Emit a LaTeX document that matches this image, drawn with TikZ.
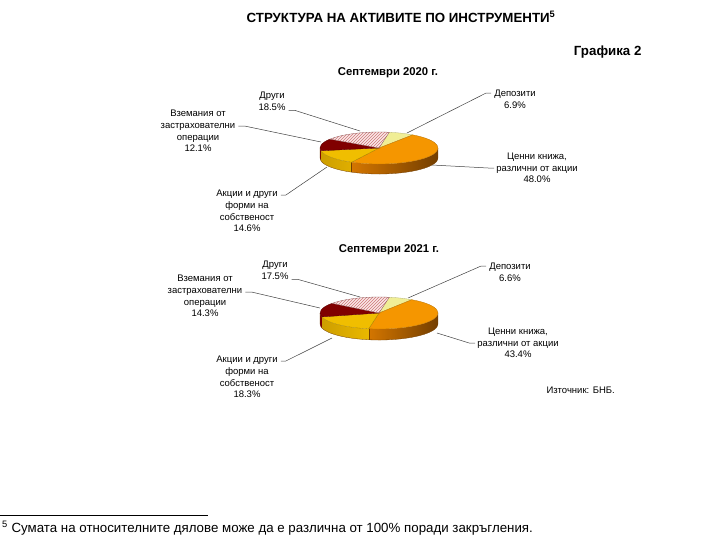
\documentclass[tikz,border=0pt]{standalone}
\usepackage{fontspec}
\setmainfont{Liberation Sans}
\usetikzlibrary{patterns}
\definecolor{depoY}{RGB}{240,238,150}
\definecolor{cenO}{RGB}{245,150,0}
\definecolor{cenOdark}{RGB}{115,62,0}
\definecolor{cenOside}{RGB}{212,118,0}
\definecolor{akcY}{RGB}{240,190,0}
\definecolor{akcYside}{RGB}{205,158,0}
\definecolor{vzR}{RGB}{128,0,0}
\definecolor{othR}{RGB}{205,120,120}
\definecolor{othBg}{RGB}{250,232,232}
\tikzset{
  lbl/.style={align=center, inner sep=0pt, font=\fontsize{9.5}{11.6}\selectfont},
  lead/.style={draw=black!75, line width=0.5pt},
  pietitle/.style={font=\bfseries\fontsize{11.3}{13}\selectfont},
  depo/.style={fill=depoY, draw=depoY!75!black, line width=0.3pt},
  cenni/.style={fill=cenO, draw=cenO!75!black, line width=0.3pt},
  akcii/.style={fill=akcY, draw=akcY!70!black, line width=0.3pt},
  vzem/.style={fill=vzR, draw=vzR!70!black, line width=0.3pt},
  drugi/.style={preaction={fill=othBg}, pattern=north east lines, pattern color=othR, draw=othR!70!black, line width=0.3pt}
}
\begin{document}
\begin{tikzpicture}[x=1pt,y=-1pt]
\useasboundingbox (0,0) rectangle (706,547);
\node[font=\bfseries\fontsize{13.3}{15}\selectfont] (title) at (401,17) {СТРУКТУРА НА АКТИВИТЕ ПО ИНСТРУМЕНТИ\textsuperscript{5}};
\node[font=\bfseries\fontsize{13.3}{15}\selectfont, anchor=east] (graf) at (645,52) {Графика 2};

% Septemvri 2020
\node[pietitle] (t1) at (388,73) {Септември 2020 г.};
\coordinate (p1) at (379,148);
\shade[left color=cenOside, right color=cenOdark] (p1) ++(0:59 and 16) arc[start angle=0, end angle=117.64, x radius=59, y radius=16] -- ++(0,10) arc[start angle=117.64, end angle=0, x radius=59, y radius=16] -- cycle;
\shade[left color=akcYside, right color=akcY] (p1) ++(117.64:59 and 16) arc[start angle=117.64, end angle=170.2, x radius=59, y radius=16] -- ++(0,10) arc[start angle=170.2, end angle=117.64, x radius=59, y radius=16] -- cycle;
\fill[vzR] (p1) ++(170.2:59 and 16) arc[start angle=170.2, end angle=180, x radius=59, y radius=16] -- ++(0,10) arc[start angle=180, end angle=170.2, x radius=59, y radius=16] -- cycle;
\draw[cenOdark, line width=0.3pt] (p1) ++(0:59 and 16) -- ++(0,10) arc[start angle=0, end angle=180, x radius=59, y radius=16] -- ++(0,-10);
\draw[cenOdark, line width=0.3pt] (p1) ++(117.64:59 and 16) -- ++(0,10);
\foreach \a/\b/\c in {-80/-55.16/depo, -55.16/117.64/cenni, 117.64/170.2/akcii, 170.2/213.76/vzem, 213.76/280/drugi}
  \filldraw[\c] (p1) -- ++(\a:59 and 16) arc[start angle=\a, end angle=\b, x radius=59, y radius=16] -- cycle;

\node[lbl] (oth1) at (272,101) {Други\\18.5\%};
\node[lbl] (vz1) at (198,131) {Вземания от\\застрахователни\\операции\\12.1\%};
\node[lbl] (dep1) at (515,99) {Депозити\\6.9\%};
\node[lbl] (cen1) at (537,168) {Ценни книжа,\\различни от акции\\48.0\%};
\node[lbl] (akc1) at (247,211) {Акции и други\\форми на\\собственост\\14.6\%};
\coordinate (oth1e) at (360,131);
\coordinate (vz1e) at (321,142);
\coordinate (dep1e) at (407,133);
\coordinate (cen1e) at (432,165);
\coordinate (akc1e) at (327,167);
\draw[lead] ([xshift=3pt]oth1.south east) -- ++(6,0) -- (oth1e);
\draw[lead] ([xshift=3pt,yshift=5pt]vz1.east) -- ++(6,0) -- (vz1e);
\draw[lead] ([xshift=-3pt,yshift=6pt]dep1.west) -- ++(-5,0) -- (dep1e);
\draw[lead] ([xshift=-2pt]cen1.west) -- ++(-6,0) -- (cen1e);
\draw[lead] ([xshift=3pt,yshift=16pt]akc1.east) -- ++(5,0) -- (akc1e);

% Septemvri 2021
\node[pietitle] (t2) at (389,250) {Септември 2021 г.};
\coordinate (p2) at (379,313);
\shade[left color=cenOside, right color=cenOdark] (p2) ++(0:59 and 16) arc[start angle=0, end angle=100, x radius=59, y radius=16] -- ++(0,11) arc[start angle=100, end angle=0, x radius=59, y radius=16] -- cycle;
\shade[left color=akcYside, right color=akcY] (p2) ++(100:59 and 16) arc[start angle=100, end angle=165.88, x radius=59, y radius=16] -- ++(0,11) arc[start angle=165.88, end angle=100, x radius=59, y radius=16] -- cycle;
\fill[vzR] (p2) ++(165.88:59 and 16) arc[start angle=165.88, end angle=180, x radius=59, y radius=16] -- ++(0,11) arc[start angle=180, end angle=165.88, x radius=59, y radius=16] -- cycle;
\draw[cenOdark, line width=0.3pt] (p2) ++(0:59 and 16) -- ++(0,11) arc[start angle=0, end angle=180, x radius=59, y radius=16] -- ++(0,-11);
\draw[cenOdark, line width=0.3pt] (p2) ++(100:59 and 16) -- ++(0,11);
\foreach \a/\b/\c in {-80/-56.24/depo, -56.24/100/cenni, 100/165.88/akcii, 165.88/217.36/vzem, 217.36/280/drugi}
  \filldraw[\c] (p2) -- ++(\a:59 and 16) arc[start angle=\a, end angle=\b, x radius=59, y radius=16] -- cycle;

\node[lbl] (oth2) at (275,270) {Други\\17.5\%};
\node[lbl] (vz2) at (205,296) {Вземания от\\застрахователни\\операции\\14.3\%};
\node[lbl] (dep2) at (510,272) {Депозити\\6.6\%};
\node[lbl] (cen2) at (518,343) {Ценни книжа,\\различни от акции\\43.4\%};
\node[lbl] (akc2) at (247,377) {Акции и други\\форми на\\собственост\\18.3\%};
\coordinate (oth2e) at (360,297);
\coordinate (vz2e) at (320,308);
\coordinate (dep2e) at (408,298);
\coordinate (cen2e) at (437,333);
\coordinate (akc2e) at (332,338);
\draw[lead] ([xshift=3pt]oth2.south east) -- ++(6,0) -- (oth2e);
\draw[lead] ([xshift=3pt,yshift=4pt]vz2.east) -- ++(6,0) -- (vz2e);
\draw[lead] ([xshift=-3pt,yshift=6pt]dep2.west) -- ++(-5,0) -- (dep2e);
\draw[lead] ([xshift=-2pt]cen2.west) -- ++(-6,0) -- (cen2e);
\draw[lead] ([xshift=3pt,yshift=16pt]akc2.east) -- ++(5,0) -- (akc2e);

\node[lbl, anchor=east] (src) at (615,390) {Източник: БНБ.};

% footnote
\draw[line width=0.8pt] (0,515) -- (208,515);
\node[anchor=west, inner sep=0pt, font=\fontsize{13.3}{15}\selectfont] (fn) at (2,528) {\textsuperscript{5} Сумата на относителните дялове може да е различна от 100\% поради закръгления.};
\end{tikzpicture}
\end{document}
